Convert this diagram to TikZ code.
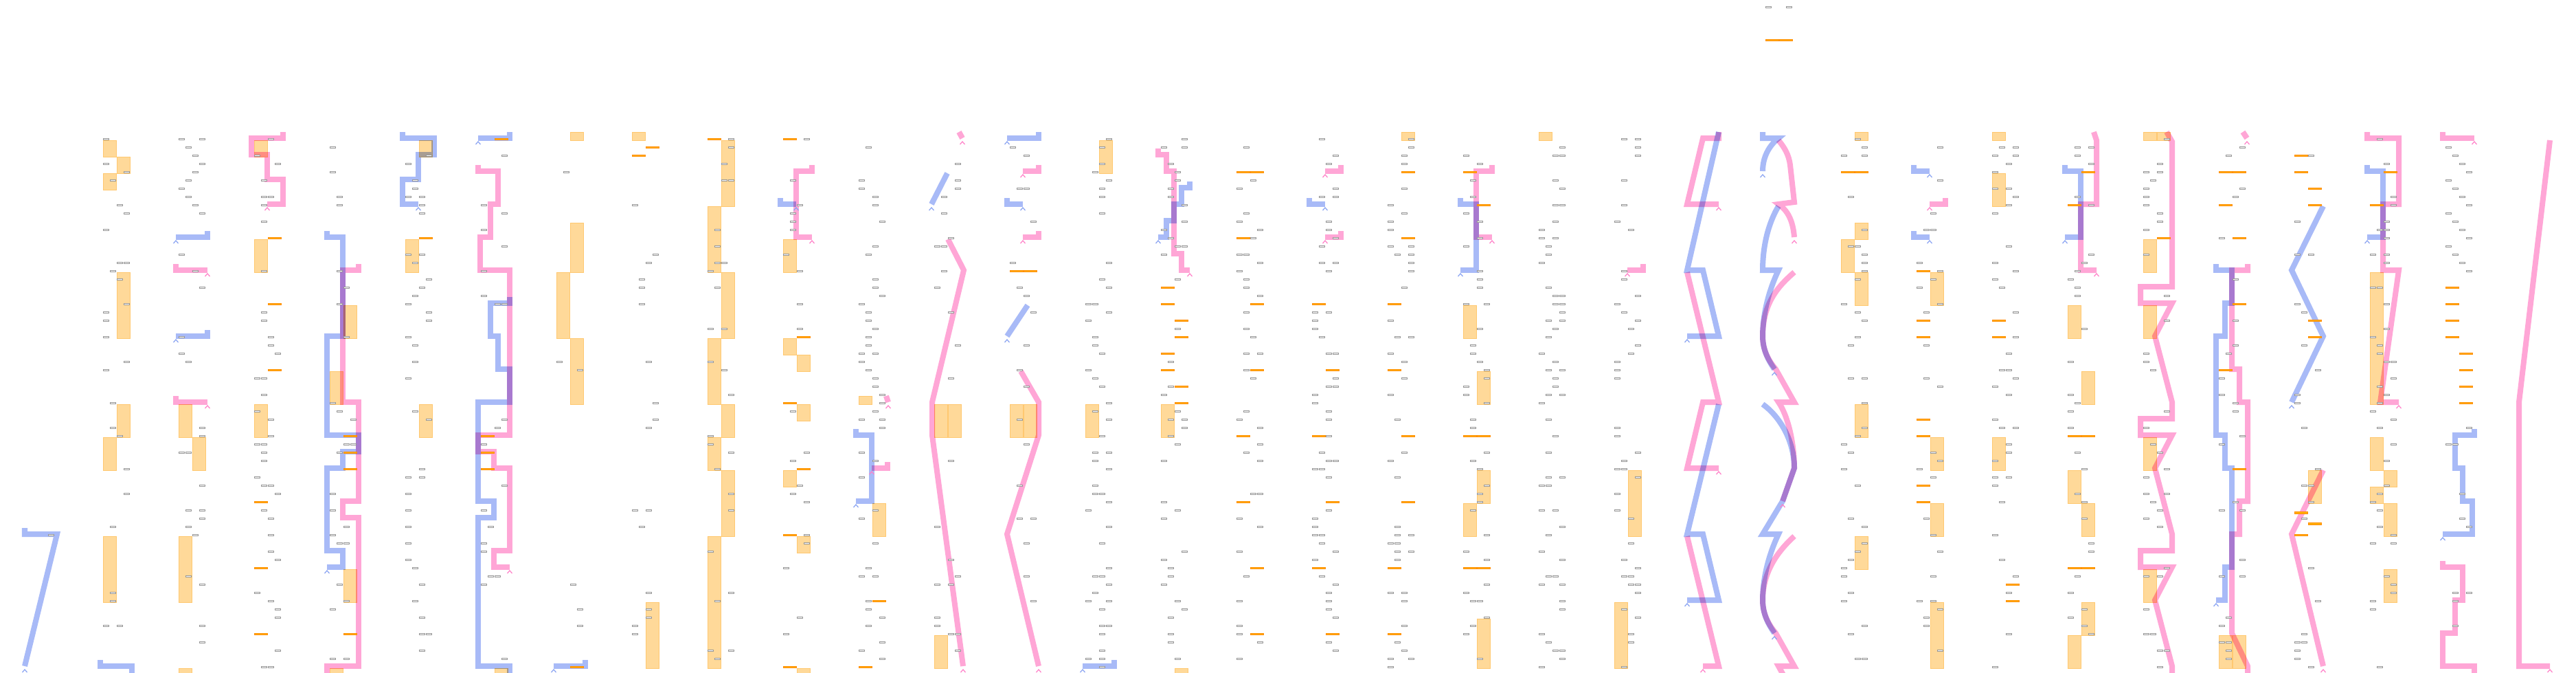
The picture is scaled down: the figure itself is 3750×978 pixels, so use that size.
\documentclass[tikz,border=0pt]{standalone}

\definecolor{bluetrace}{RGB}{168,186,247}
\definecolor{blueedge}{RGB}{137,163,242}
\definecolor{pinktrace}{RGB}{255,166,214}
\definecolor{pinkedge}{RGB}{255,128,200}
\definecolor{blockfill}{RGB}{255,217,153}
\definecolor{blockedge}{RGB}{255,200,112}
\definecolor{barorange}{RGB}{255,140,0}
\definecolor{baryellow}{RGB}{255,210,0}
\definecolor{tickgray}{RGB}{150,150,150}

% k = group, j/s = slot, n = row
\newcommand\gtick[3]{\draw[tickbox] ({40+110*#1+10*#2+0.5},{12*#3+9.3}) rectangle ++(8,2.3);}
\newcommand\oblock[4]{\draw[orangeblock] ({40+110*#1+20*#2},{12*#3+12}) rectangle ({40+110*#1+20*#2+19},{12*#4+12});}
\newcommand\obarr[3]{\draw[orangebar] ({40+110*#1+20*#2},{12*#3+9}) rectangle ++(19,2.7);}
\newcommand\tailmark[3]{\draw[#1, line width=0.012cm] ({#2-3.5},{#3+9}) -- ({#2},{#3+5}) -- ({#2+3.5},{#3+9});}

\begin{document}
\begin{tikzpicture}[x=0.01cm, y=-0.01cm,
    bluepath/.style={draw=bluetrace, line width=0.08cm, blend mode=multiply},
    pinkpath/.style={draw=pinktrace, line width=0.08cm, blend mode=multiply},
    tickbox/.style={draw=tickgray, fill=white, line width=0.008cm},
    orangeblock/.style={fill=blockfill, draw=blockedge, line width=0.008cm},
    orangebar/.style={fill=baryellow!55!barorange, draw=barorange, line width=0.006cm}]
  \fill[white] (0,0) rectangle (3750,978);
  \clip (0,0) rectangle (3750,978);

  % orange blocks
  \foreach \k/\s/\a/\b in {1/0/16/18, 1/1/18/20, 1/0/20/22, 1/1/32/40, 1/1/48/52, 1/0/52/56, 1/0/64/72,
      2/0/48/52, 2/1/52/56, 2/0/64/72, 2/0/80/82, 3/0/16/18, 3/0/28/32, 3/0/48/52,
      4/1/36/40, 4/0/44/48, 4/1/68/72, 4/0/80/82, 5/1/16/18, 5/0/28/32, 5/1/48/52, 6/1/80/82,
      7/1/15/16, 7/1/26/32, 7/0/32/40, 7/1/40/48, 8/0/15/16, 8/1/72/80,
      9/1/16/24, 9/0/24/32, 9/1/32/40, 9/0/40/48, 9/1/48/52, 9/0/52/56, 9/1/56/64, 9/0/64/80,
      10/0/28/32, 10/0/40/42, 10/1/42/44, 10/1/48/50, 10/0/56/58, 10/1/64/66, 10/1/80/82,
      11/0/47/48, 11/1/60/64, 12/0/48/52, 12/1/48/52, 12/0/76/80, 13/0/48/52, 13/1/48/52,
      14/1/16/20, 14/0/48/52, 15/0/48/52, 15/1/80/82, 18/1/15/16,
      19/0/36/40, 19/1/44/48, 19/1/56/60, 19/0/60/64, 19/1/74/80, 20/0/15/16, 21/1/56/64, 21/0/72/80,
      24/1/15/16, 24/1/26/28, 24/0/28/32, 24/1/32/36, 24/1/48/52, 24/1/64/68,
      25/1/32/36, 25/1/52/56, 25/1/60/64, 25/1/72/80, 26/0/15/16, 26/0/20/24, 26/0/52/56,
      27/0/36/40, 27/1/44/48, 27/0/56/60, 27/1/60/64, 27/1/72/76, 27/0/76/80,
      28/0/15/16, 28/1/15/16, 28/0/28/32, 28/0/36/40, 28/0/52/56, 28/0/68/72,
      29/0/76/80, 29/1/76/80, 30/1/56/60,
      31/0/32/48, 31/0/52/56, 31/1/56/58, 31/0/58/60, 31/1/60/64, 31/1/68/72}
    {\oblock{\k}{\s}{\a}{\b}}

  % blue traces
  \draw[bluepath] (36,768) -- (36,777) -- (83,777) -- (36,969);
  \draw[bluepath] (146,960) -- (146,969) -- (192,969) -- (192,1000);
  \draw[bluepath] (302,336) -- (302,345) -- (256,345);
  \draw[bluepath] (302,480) -- (302,489) -- (256,489);
  \draw[bluepath] (476,336) -- (476,345) -- (499,345) -- (499,489) -- (476,489) -- (476,633) -- (522,633)
    -- (522,657) -- (499,657) -- (499,681) -- (476,681) -- (476,801) -- (499,801) -- (499,825) -- (476,825);
  \draw[bluepath] (586,192) -- (586,201) -- (632,201) -- (632,225) -- (609,225) -- (609,261) -- (586,261)
    -- (586,297) -- (609,297);
  \draw[bluepath] (742,192) -- (742,201) -- (696,201);
  \draw[bluepath] (742,432) -- (742,441) -- (714,441) -- (714,489) -- (725,489) -- (725,537) -- (742,537)
    -- (742,585) -- (696,585) -- (696,729) -- (719,729) -- (719,753) -- (696,753) -- (696,969) -- (742,969) -- (742,1000);
  \draw[bluepath] (852,960) -- (852,969) -- (806,969);
  \draw[bluepath] (1136,288) -- (1136,297) -- (1159,297);
  \draw[bluepath] (1246,624) -- (1246,633) -- (1269,633) -- (1269,729) -- (1246,729);
  \draw[bluepath] (1379,252) -- (1356,297);
  \draw[bluepath] (1512,192) -- (1512,201) -- (1466,201);
  \draw[bluepath] (1466,288) -- (1466,297) -- (1489,297);
  \draw[bluepath] (1496,444) -- (1466,489);
  \draw[bluepath] (1622,960) -- (1622,969) -- (1576,969);
  \draw[bluepath] (1732,264) -- (1732,273) -- (1720,273) -- (1720,297) -- (1709,297) -- (1709,321)
    -- (1698,321) -- (1698,345) -- (1686,345);
  \draw[bluepath] (1906,288) -- (1906,297) -- (1929,297);
  \draw[bluepath] (2126,288) -- (2126,297) -- (2149,297) -- (2149,393) -- (2126,393);
  \draw[bluepath] (2502,192) -- (2456,393) -- (2479,393) -- (2502,489) -- (2456,489);
  \draw[bluepath] (2502,588) -- (2456,777) -- (2479,777) -- (2502,873) -- (2456,873);
  \draw[bluepath] (2566,192) -- (2566,201) -- (2589,201) .. controls (2574,213) and (2566,230) .. (2566,249);
  \draw[bluepath] (2589,300) .. controls (2578,318) and (2566,350) .. (2566,393) -- (2589,393)
    .. controls (2576,420) and (2566,455) .. (2566,489) .. controls (2566,510) and (2575,525) .. (2583,537);
  \draw[bluepath] (2566,588) .. controls (2590,605) and (2612,640) .. (2612,681) -- (2595,729) -- (2566,777)
    -- (2589,777) .. controls (2576,804) and (2566,839) .. (2566,873) .. controls (2566,894) and (2575,909) .. (2583,921);
  \draw[bluepath] (2786,240) -- (2786,249) -- (2809,249);
  \draw[bluepath] (2786,336) -- (2786,345) -- (2809,345);
  \draw[bluepath] (3006,240) -- (3006,249) -- (3029,249) -- (3029,345) -- (3006,345);
  \draw[bluepath] (3226,384) -- (3226,393) -- (3249,393) -- (3249,441) -- (3239,441) -- (3239,489) -- (3226,489)
    -- (3226,633) -- (3239,633) -- (3239,681) -- (3249,681) -- (3249,825) -- (3239,825) -- (3239,873) -- (3226,873);
  \draw[bluepath] (3382,300) -- (3336,393) -- (3382,489) -- (3336,585);
  \draw[bluepath] (3446,240) -- (3446,249) -- (3469,249) -- (3469,345) -- (3446,345);
  \draw[bluepath] (3602,624) -- (3602,633) -- (3574,633) -- (3574,681) -- (3585,681) -- (3585,729)
    -- (3599,729) -- (3599,777) -- (3556,777);

  % pink traces
  \draw[pinkpath] (412,192) -- (412,201) -- (366,201) -- (366,225) -- (389,225) -- (389,261) -- (412,261)
    -- (412,297) -- (389,297);
  \draw[pinkpath] (256,384) -- (256,393) -- (302,393);
  \draw[pinkpath] (256,576) -- (256,585) -- (302,585);
  \draw[pinkpath] (522,384) -- (522,393) -- (499,393) -- (499,585) -- (522,585) -- (522,729) -- (499,729)
    -- (499,753) -- (522,753) -- (522,969) -- (476,969) -- (476,1000);
  \draw[pinkpath] (696,240) -- (696,249) -- (725,249) -- (725,297) -- (714,297) -- (714,345) -- (699,345)
    -- (699,393) -- (742,393) -- (742,633) -- (696,633) -- (696,657) -- (719,657) -- (719,681) -- (742,681)
    -- (742,801) -- (719,801) -- (719,825) -- (742,825);
  \draw[pinkpath] (1182,240) -- (1182,249) -- (1159,249) -- (1159,345) -- (1182,345);
  \draw[pinkpath] (1290,576) -- (1293,585);
  \draw[pinkpath] (1292,672) -- (1292,681) -- (1269,681);
  \draw[pinkpath] (1396,192) -- (1401,201);
  \draw[pinkpath] (1380,348) -- (1403,393) -- (1357,585) -- (1357,633) -- (1402,969);
  \draw[pinkpath] (1512,240) -- (1512,249) -- (1489,249);
  \draw[pinkpath] (1512,336) -- (1512,345) -- (1489,345);
  \draw[pinkpath] (1486,540) -- (1512,585) -- (1512,633) -- (1466,777) -- (1512,969);
  \draw[pinkpath] (1686,216) -- (1686,225) -- (1698,225) -- (1698,249) -- (1709,249) -- (1709,369)
    -- (1720,369) -- (1720,393) -- (1732,393);
  \draw[pinkpath] (1952,240) -- (1952,249) -- (1929,249);
  \draw[pinkpath] (1952,336) -- (1952,345) -- (1929,345);
  \draw[pinkpath] (2172,240) -- (2172,249) -- (2149,249) -- (2149,345) -- (2172,345);
  \draw[pinkpath] (2392,384) -- (2392,393) -- (2369,393);
  \draw[pinkpath] (2502,192) -- (2502,201) -- (2479,201) -- (2456,297) -- (2502,297);
  \draw[pinkpath] (2456,396) -- (2502,585) -- (2479,585) -- (2456,681) -- (2502,681);
  \draw[pinkpath] (2456,780) -- (2502,969) -- (2479,969);
  \draw[pinkpath] (2589,204) .. controls (2598,215) and (2604,225) .. (2606,240) -- (2612,294) -- (2589,297)
    .. controls (2602,306) and (2610,320) .. (2612,345);
  \draw[pinkpath] (2612,396) .. controls (2590,415) and (2566,440) .. (2566,489)
    .. controls (2566,510) and (2575,525) .. (2585,537) -- (2612,585) -- (2589,585)
    .. controls (2603,605) and (2612,645) .. (2612,681) -- (2595,729);
  \draw[pinkpath] (2612,780) .. controls (2590,800) and (2566,830) .. (2566,873)
    .. controls (2566,894) and (2575,909) .. (2585,921) -- (2612,969) -- (2589,969) -- (2606,1000);
  \draw[pinkpath] (2832,288) -- (2832,297) -- (2809,297);
  \draw[pinkpath] (3048,192) -- (3052,204) -- (3052,297) -- (3029,297) -- (3029,393) -- (3052,393);
  \draw[pinkpath] (3154,192) -- (3162,206) -- (3162,417) -- (3116,417) -- (3116,441) -- (3162,441) -- (3137,489)
    -- (3162,585) -- (3162,609) -- (3116,609) -- (3116,633) -- (3162,633) -- (3137,681) -- (3162,777)
    -- (3162,801) -- (3116,801) -- (3116,825) -- (3162,825) -- (3137,873) -- (3162,969) -- (3162,1000);
  \draw[pinkpath] (3265,192) -- (3271,201);
  \draw[pinkpath] (3272,384) -- (3272,393) -- (3249,393) -- (3249,537) -- (3260,537) -- (3260,585) -- (3272,585)
    -- (3272,729) -- (3260,729) -- (3260,777) -- (3249,777) -- (3249,921) -- (3272,969) -- (3272,1000);
  \draw[pinkpath] (3382,684) -- (3336,777) -- (3382,969);
  \draw[pinkpath] (3446,192) -- (3446,201) -- (3492,201) -- (3492,297) -- (3469,297) -- (3469,393)
    -- (3492,393) -- (3465,585) -- (3492,585);
  \draw[pinkpath] (3556,192) -- (3556,201) -- (3602,201);
  \draw[pinkpath] (3556,816) -- (3556,825) -- (3585,825) -- (3585,873) -- (3574,873) -- (3574,921)
    -- (3556,921) -- (3556,969) -- (3602,969) -- (3602,1000);
  \draw[pinkpath] (3712,204) -- (3667,585) -- (3667,969) -- (3712,969);

  % end marks
  \foreach \x/\y in {36/969, 256/345, 256/489, 476/825, 609/297, 696/201, 806/969, 1159/297, 1246/729,
      1356/297, 1466/201, 1489/297, 1466/489, 1576/969, 1686/345, 1929/297, 2126/393, 2456/489, 2456/873,
      2566/249, 2583/537, 2583/921, 2809/249, 2809/345, 3006/345, 3226/873, 3336/585, 3446/345, 3556/777}
    {\tailmark{blueedge}{\x}{\y}}
  \foreach \x/\y in {389/297, 302/393, 302/585, 742/825, 1182/345, 1293/585, 1269/681, 1401/201, 1402/969,
      1489/249, 1489/345, 1512/969, 1732/393, 1929/249, 1929/345, 2172/345, 2369/393, 2502/297, 2502/681,
      2479/969, 2612/345, 2595/729, 2809/297, 3052/393, 3271/201, 3382/969, 3492/585, 3602/201, 3712/969}
    {\tailmark{pinkedge}{\x}{\y}}

  % ticks
  \gtick{0}{3}{64}
  \gtick{23}{0}{0} \gtick{23}{3}{0}
  \foreach \j/\n in {0/16, 3/16, 1/17, 2/18, 3/19, 2/20, 1/21, 0/22, 1/23, 2/24}
    {\gtick{2}{\j}{\n}}
  \foreach \n in {17,...,32}
    {\pgfmathtruncatemacro\jj{mod(\n-17,4)}\gtick{32}{\jj}{\n}}
  \foreach \j/\n in {0/34, 0/36, 1/38, 1/40, 2/42, 2/44, 3/46, 3/48}
    {\gtick{32}{\j}{\n}}
  \pgfmathsetseed{2718}
  \foreach \k/\lo/\p in {1/16/0.35, 2/25/0.35, 3/16/0.5, 4/16/0.35, 5/16/0.6, 6/16/0.3, 7/16/0.18,
      8/16/0.25, 9/16/0.35, 10/16/0.3, 11/16/0.6, 12/16/0.4, 13/16/0.3, 14/16/0.6, 15/16/0.55,
      16/16/0.6, 17/16/0.6, 18/16/0.6, 19/16/0.6, 20/16/0.6, 21/16/0.55, 24/16/0.6, 25/16/0.5,
      26/16/0.5, 27/16/0.4, 28/16/0.5, 29/16/0.35, 30/16/0.35, 31/16/0.55, 32/50/0.25}
  {
    \foreach \n in {\lo,...,80}{
      \pgfmathtruncatemacro\hit{rnd<\p}
      \ifnum\hit=1
        \pgfmathtruncatemacro\jj{random(0,3)}
        \gtick{\k}{\jj}{\n}
        \pgfmathtruncatemacro\two{rnd<0.15}
        \ifnum\two=1
          \pgfmathtruncatemacro\jj{random(0,3)}
          \gtick{\k}{\jj}{\n}
        \fi
      \fi
    }
  }

  % orange bars
  \foreach \k/\s/\n in {3/1/28, 3/1/36, 3/1/44, 3/0/60, 3/0/68, 3/0/76, 4/1/52, 4/1/54, 4/1/56, 4/1/76,
      5/1/28, 6/1/16, 6/0/52, 6/0/54, 6/0/56, 7/1/80, 8/1/17, 8/0/18, 9/0/16,
      10/0/16, 10/1/40, 10/0/48, 10/1/56, 10/0/64, 10/0/80, 11/1/72, 11/0/80, 13/0/32, 13/1/32,
      15/0/34, 15/0/36, 15/1/38, 15/1/40, 15/0/42, 15/0/44, 15/1/46, 15/1/48,
      16/0/20, 16/1/20, 16/0/28, 16/1/36, 16/1/44, 16/0/52, 16/0/60, 16/1/68, 16/1/76,
      17/0/36, 17/1/44, 17/0/52, 17/1/60, 17/0/68, 17/1/76,
      18/1/20, 18/1/28, 18/0/36, 18/0/44, 18/1/52, 18/1/60, 18/0/68, 18/0/76,
      19/0/20, 19/1/24, 19/0/52, 19/1/52, 19/0/68, 19/1/68, 23/0/4, 23/1/4, 24/0/20, 24/1/20,
      25/0/32, 25/0/38, 25/0/40, 25/0/50, 25/0/52, 25/0/58, 25/0/60, 26/0/38, 26/0/40, 26/1/70, 26/1/72,
      27/1/20, 27/0/24, 27/0/52, 27/1/52, 27/0/68, 27/1/68, 28/1/28,
      29/0/20, 29/1/20, 29/0/24, 29/1/28, 29/1/36, 29/0/44, 29/1/56,
      30/0/18, 30/0/20, 30/1/22, 30/1/24, 30/1/38, 30/1/40, 30/0/61.3, 30/1/62.6, 30/0/64,
      31/1/20, 31/0/24, 32/0/34, 32/0/36, 32/0/38, 32/0/40, 32/1/42, 32/1/44, 32/1/46, 32/1/48}
    {\obarr{\k}{\s}{\n}}
\end{tikzpicture}
\end{document}
